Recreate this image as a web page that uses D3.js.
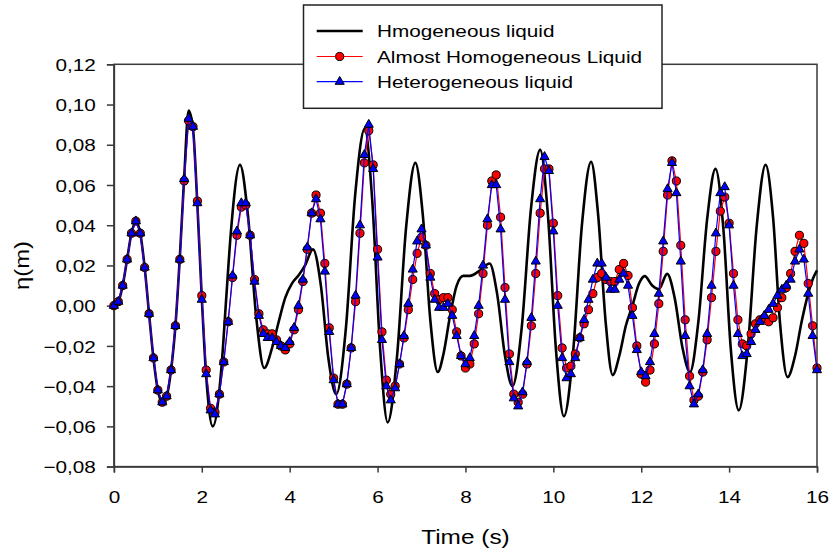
<!DOCTYPE html>
<html>
<head>
<meta charset="utf-8">
<script src="https://cdn.jsdelivr.net/npm/d3@7/dist/d3.min.js"></script>
<style>
  html, body { margin: 0; padding: 0; background: #fff; }
  svg { display: block; font-family: "Liberation Sans", Arial, sans-serif; }
</style>
</head>
<body>
<svg id="chart" width="832" height="559"></svg>
<script>
// Free-surface elevation records, sampled every 0.1 s
const times = [0,0.1,0.2,0.3,0.4,0.5,0.6,0.7,0.8,0.9,1,1.1,1.2,1.3,1.4,1.5,1.6,1.7,1.8,1.9,
  2,2.1,2.2,2.3,2.4,2.5,2.6,2.7,2.8,2.9,3,3.1,3.2,3.3,3.4,3.5,3.6,3.7,3.8,3.9,
  4,4.1,4.2,4.3,4.4,4.5,4.6,4.7,4.8,4.9,5,5.1,5.2,5.3,5.4,5.5,5.6,5.7,5.8,5.9,
  6,6.1,6.2,6.3,6.4,6.5,6.6,6.7,6.8,6.9,7,7.1,7.2,7.3,7.4,7.5,7.6,7.7,7.8,7.9,
  8,8.1,8.2,8.3,8.4,8.5,8.6,8.7,8.8,8.9,9,9.1,9.2,9.3,9.4,9.5,9.6,9.7,9.8,9.9,
  10,10.1,10.2,10.3,10.4,10.5,10.6,10.7,10.8,10.9,11,11.1,11.2,11.3,11.4,11.5,11.6,11.7,11.8,11.9,
  12,12.1,12.2,12.3,12.4,12.5,12.6,12.7,12.8,12.9,13,13.1,13.2,13.3,13.4,13.5,13.6,13.7,13.8,13.9,
  14,14.1,14.2,14.3,14.4,14.5,14.6,14.7,14.8,14.9,15,15.1,15.2,15.3,15.4,15.5,15.6,15.7,15.8,15.9,16];

const almostHomogeneous = [0.000,0.002,0.010,0.023,0.036,0.042,0.036,0.019,-0.004,-0.026,
  -0.042,-0.048,-0.045,-0.032,-0.010,0.023,0.062,0.092,0.089,0.052,
  0.005,-0.032,-0.051,-0.053,-0.044,-0.028,-0.008,0.014,0.035,0.049,
  0.050,0.035,0.013,-0.004,-0.012,-0.014,-0.014,-0.017,-0.020,-0.022,
  -0.019,-0.012,-0.002,0.012,0.028,0.046,0.055,0.046,0.021,-0.011,
  -0.036,-0.049,-0.049,-0.039,-0.021,0.002,0.036,0.071,0.087,0.070,
  0.028,-0.013,-0.037,-0.044,-0.040,-0.029,-0.016,-0.002,0.013,0.026,
  0.034,0.030,0.016,0.006,0.003,0.004,0.004,-0.002,-0.013,-0.025,
  -0.031,-0.029,-0.019,-0.004,0.016,0.040,0.062,0.065,0.044,0.009,
  -0.024,-0.044,-0.048,-0.044,-0.029,-0.010,0.016,0.046,0.068,0.068,
  0.041,0.005,-0.021,-0.031,-0.030,-0.024,-0.016,-0.009,-0.002,0.006,
  0.014,0.016,0.013,0.012,0.012,0.018,0.021,0.015,-0.001,-0.020,
  -0.034,-0.038,-0.032,-0.019,0.001,0.027,0.055,0.072,0.062,0.030,
  -0.007,-0.035,-0.047,-0.045,-0.033,-0.017,0.004,0.027,0.047,0.054,
  0.041,0.016,-0.007,-0.019,-0.020,-0.014,-0.009,-0.007,-0.006,-0.008,
  -0.006,-0.001,0.004,0.009,0.016,0.027,0.035,0.031,0.011,-0.010,-0.031];

const heterogeneous = [0.000,0.002,0.010,0.023,0.036,0.042,0.036,0.019,-0.004,-0.026,
  -0.042,-0.048,-0.045,-0.032,-0.010,0.023,0.063,0.093,0.089,0.051,
  0.003,-0.034,-0.052,-0.054,-0.044,-0.028,-0.008,0.015,0.037,0.051,
  0.051,0.035,0.012,-0.005,-0.014,-0.016,-0.016,-0.018,-0.020,-0.021,
  -0.018,-0.011,0.000,0.013,0.029,0.046,0.053,0.043,0.017,-0.013,
  -0.037,-0.049,-0.049,-0.039,-0.021,0.005,0.040,0.075,0.090,0.068,
  0.024,-0.017,-0.040,-0.047,-0.041,-0.029,-0.015,0.001,0.018,0.032,
  0.038,0.030,0.014,0.003,-0.001,-0.001,0.001,-0.005,-0.015,-0.025,
  -0.029,-0.026,-0.015,0.000,0.020,0.043,0.060,0.060,0.038,0.003,
  -0.028,-0.046,-0.050,-0.043,-0.028,-0.006,0.022,0.053,0.074,0.067,
  0.037,0.000,-0.026,-0.036,-0.034,-0.026,-0.016,-0.007,0.003,0.013,
  0.021,0.021,0.014,0.008,0.008,0.013,0.016,0.010,-0.005,-0.022,
  -0.033,-0.035,-0.028,-0.014,0.006,0.032,0.058,0.071,0.056,0.022,
  -0.015,-0.040,-0.049,-0.044,-0.032,-0.014,0.010,0.036,0.056,0.059,
  0.040,0.010,-0.014,-0.025,-0.024,-0.018,-0.012,-0.008,-0.005,-0.002,
  0.001,0.005,0.008,0.010,0.013,0.022,0.028,0.023,0.006,-0.015,-0.032];

// Homogeneous-liquid solution (continuous curve)
const homogeneousT = [0,0.1,0.2,0.3,0.4,0.5,0.6,0.7,0.8,0.9,1.0,1.1,1.2,1.3,1.4,1.5,1.6,1.7,1.8,1.9,2.0,2.1,
  2.25,2.45,2.56,2.66,2.87,3.05,3.24,3.42,3.6,3.75,3.9,4.05,4.2,4.35,4.53,4.71,4.88,5.06,5.28,5.49,5.71,
  5.88,6.06,6.23,6.44,6.65,6.86,7.03,7.2,7.37,7.5,7.65,7.8,7.95,8.1,8.3,8.55,8.72,8.9,9.07,9.28,9.49,9.7,
  9.88,10.06,10.24,10.45,10.65,10.86,11.02,11.19,11.35,11.5,11.65,11.8,11.95,12.08,12.25,12.4,12.59,12.76,
  12.94,13.11,13.3,13.5,13.69,13.87,14.04,14.22,14.42,14.63,14.83,15.0,15.16,15.33,15.5,15.65,15.8,15.9,16.0];
const homogeneousV = [0,0.002,0.010,0.023,0.036,0.042,0.036,0.019,-0.004,-0.026,-0.042,-0.048,-0.045,-0.032,-0.010,0.024,0.064,0.097,0.088,0.050,0.004,-0.035,
  -0.060,-0.030,0.005,0.036,0.070,0.045,-0.006,-0.031,-0.021,-0.008,0.004,0.011,0.015,0.020,0.028,0.010,-0.026,-0.044,-0.011,0.055,0.088,
  0.052,-0.022,-0.058,-0.026,0.039,0.071,0.045,-0.007,-0.033,-0.024,-0.005,0.010,0.0148,0.0148,0.017,0.021,0.006,-0.025,-0.040,-0.011,0.048,0.0775,
  0.044,-0.022,-0.055,-0.023,0.040,0.0715,0.045,-0.008,-0.0345,-0.025,-0.010,0.000,0.011,0.0147,0.010,0.0082,0.0158,0.004,
  -0.021,-0.033,-0.008,0.043,0.068,0.038,-0.022,-0.052,-0.022,0.040,0.070,0.044,-0.009,-0.0355,-0.025,-0.008,0.006,0.013,0.0175];

const xTicks = [0,2,4,6,8,10,12,14,16];
const yTicks = [-0.08,-0.06,-0.04,-0.02,0,0.02,0.04,0.06,0.08,0.10,0.12];
const legendLabels = ["Hmogeneous liquid", "Almost Homogeneous Liquid", "Heterogeneous liquid"];

const svg = d3.select("#chart");
const x = d3.scaleLinear().domain([0, 16]).range([113.9, 817]);
const y = d3.scaleLinear().domain([-0.08, 0.12]).range([466.6, 64.3]);
const comma = d3.formatLocale({decimal: ",", thousands: ".", grouping: [3], currency: ["", ""]});
const fmtY = comma.format(".2f");
const WIDE = 1.22;   // wide sans lettering

const axisColor = "#3a3a3a";

// frame
svg.append("rect")
  .attr("x", x(0)).attr("y", y(0.12))
  .attr("width", x(16) - x(0)).attr("height", y(-0.08) - y(0.12))
  .attr("fill", "none").attr("stroke", axisColor).attr("stroke-width", 1.5);

// y axis
const gy = svg.append("g").attr("transform", `translate(${x(0)},0)`)
  .call(d3.axisLeft(y).tickValues(yTicks).tickSize(7).tickFormat(fmtY));
gy.select(".domain").attr("stroke", axisColor).attr("stroke-width", 1.5);
gy.selectAll(".tick line").attr("stroke", axisColor).attr("stroke-width", 1.5);
gy.selectAll(".tick text")
  .attr("x", null).attr("dy", null)
  .attr("transform", `translate(-18,6.2) scale(${WIDE},1)`)
  .attr("text-anchor", "end")
  .attr("font-family", "Liberation Sans, Arial, sans-serif")
  .attr("font-size", 17).attr("fill", "#000");

// x axis
const gx = svg.append("g").attr("transform", `translate(0,${y(-0.08)})`)
  .call(d3.axisBottom(x).tickValues(xTicks).tickSize(6).tickFormat(d3.format("d")));
gx.select(".domain").attr("stroke", axisColor).attr("stroke-width", 1.5);
gx.selectAll(".tick line").attr("stroke", axisColor).attr("stroke-width", 1.5);
gx.selectAll(".tick text")
  .attr("y", null).attr("dy", null)
  .attr("transform", `translate(0,36.6) scale(${WIDE},1)`)
  .attr("text-anchor", "middle")
  .attr("font-family", "Liberation Sans, Arial, sans-serif")
  .attr("font-size", 17).attr("fill", "#000");

// axis titles
svg.append("text")
  .attr("transform", `translate(${(x(0) + x(16)) / 2},543.5) scale(${WIDE},1)`)
  .attr("text-anchor", "middle").attr("font-size", 20).attr("fill", "#000")
  .text("Time (s)");
svg.append("text")
  .attr("transform", `translate(29,${(y(0.12) + y(-0.08)) / 2}) rotate(-90) scale(${WIDE},1)`)
  .attr("text-anchor", "middle").attr("font-size", 19.5).attr("fill", "#000")
  .text("η(m)");

// homogeneous curve
const homData = homogeneousT.map((t, i) => [t, homogeneousV[i]]);
svg.append("path").datum(homData)
  .attr("fill", "none").attr("stroke", "#000").attr("stroke-width", 2.6)
  .attr("stroke-linejoin", "round")
  .attr("d", d3.line().x(d => x(d[0])).y(d => y(d[1])).curve(d3.curveMonotoneX));

const circleSym = d3.symbol().type(d3.symbolCircle).size(52);
const triSym = d3.symbol().type(d3.symbolTriangle).size(36);

function series(values, color, sym) {
  const data = times.map((t, i) => [t, values[i]]);
  svg.append("path").datum(data)
    .attr("fill", "none").attr("stroke", color).attr("stroke-width", 1.2)
    .attr("d", d3.line().x(d => x(d[0])).y(d => y(d[1])));
  svg.append("g").selectAll("path").data(data).join("path")
    .attr("transform", d => `translate(${x(d[0])},${y(d[1])})`)
    .attr("d", sym)
    .attr("fill", color).attr("stroke", "#000").attr("stroke-width", 1);
}
series(almostHomogeneous, "#ff0000", circleSym);
series(heterogeneous, "#0000ff", triSym);

// legend
const lg = svg.append("g");
lg.append("rect").attr("x", 303.5).attr("y", 5).attr("width", 358.5).attr("height", 103.3)
  .attr("fill", "#fff").attr("stroke", "#222").attr("stroke-width", 1.5);
const rows = [31, 56.5, 81.7];
const styles = [
  {color: "#000", width: 2.6, sym: null},
  {color: "#ff0000", width: 1.2, sym: circleSym},
  {color: "#0000ff", width: 1.2, sym: triSym}
];
legendLabels.forEach((label, i) => {
  const yy = rows[i];
  lg.append("line").attr("x1", 316.7).attr("x2", 362.7).attr("y1", yy).attr("y2", yy)
    .attr("stroke", styles[i].color).attr("stroke-width", styles[i].width);
  if (styles[i].sym) {
    lg.append("path").attr("transform", `translate(339.7,${yy})`).attr("d", styles[i].sym)
      .attr("fill", styles[i].color).attr("stroke", "#000").attr("stroke-width", 1);
  }
  lg.append("text")
    .attr("transform", `translate(377,${yy + 6.3}) scale(${WIDE},1)`)
    .attr("font-size", 17).attr("fill", "#000")
    .text(label);
});
</script>
</body>
</html>
